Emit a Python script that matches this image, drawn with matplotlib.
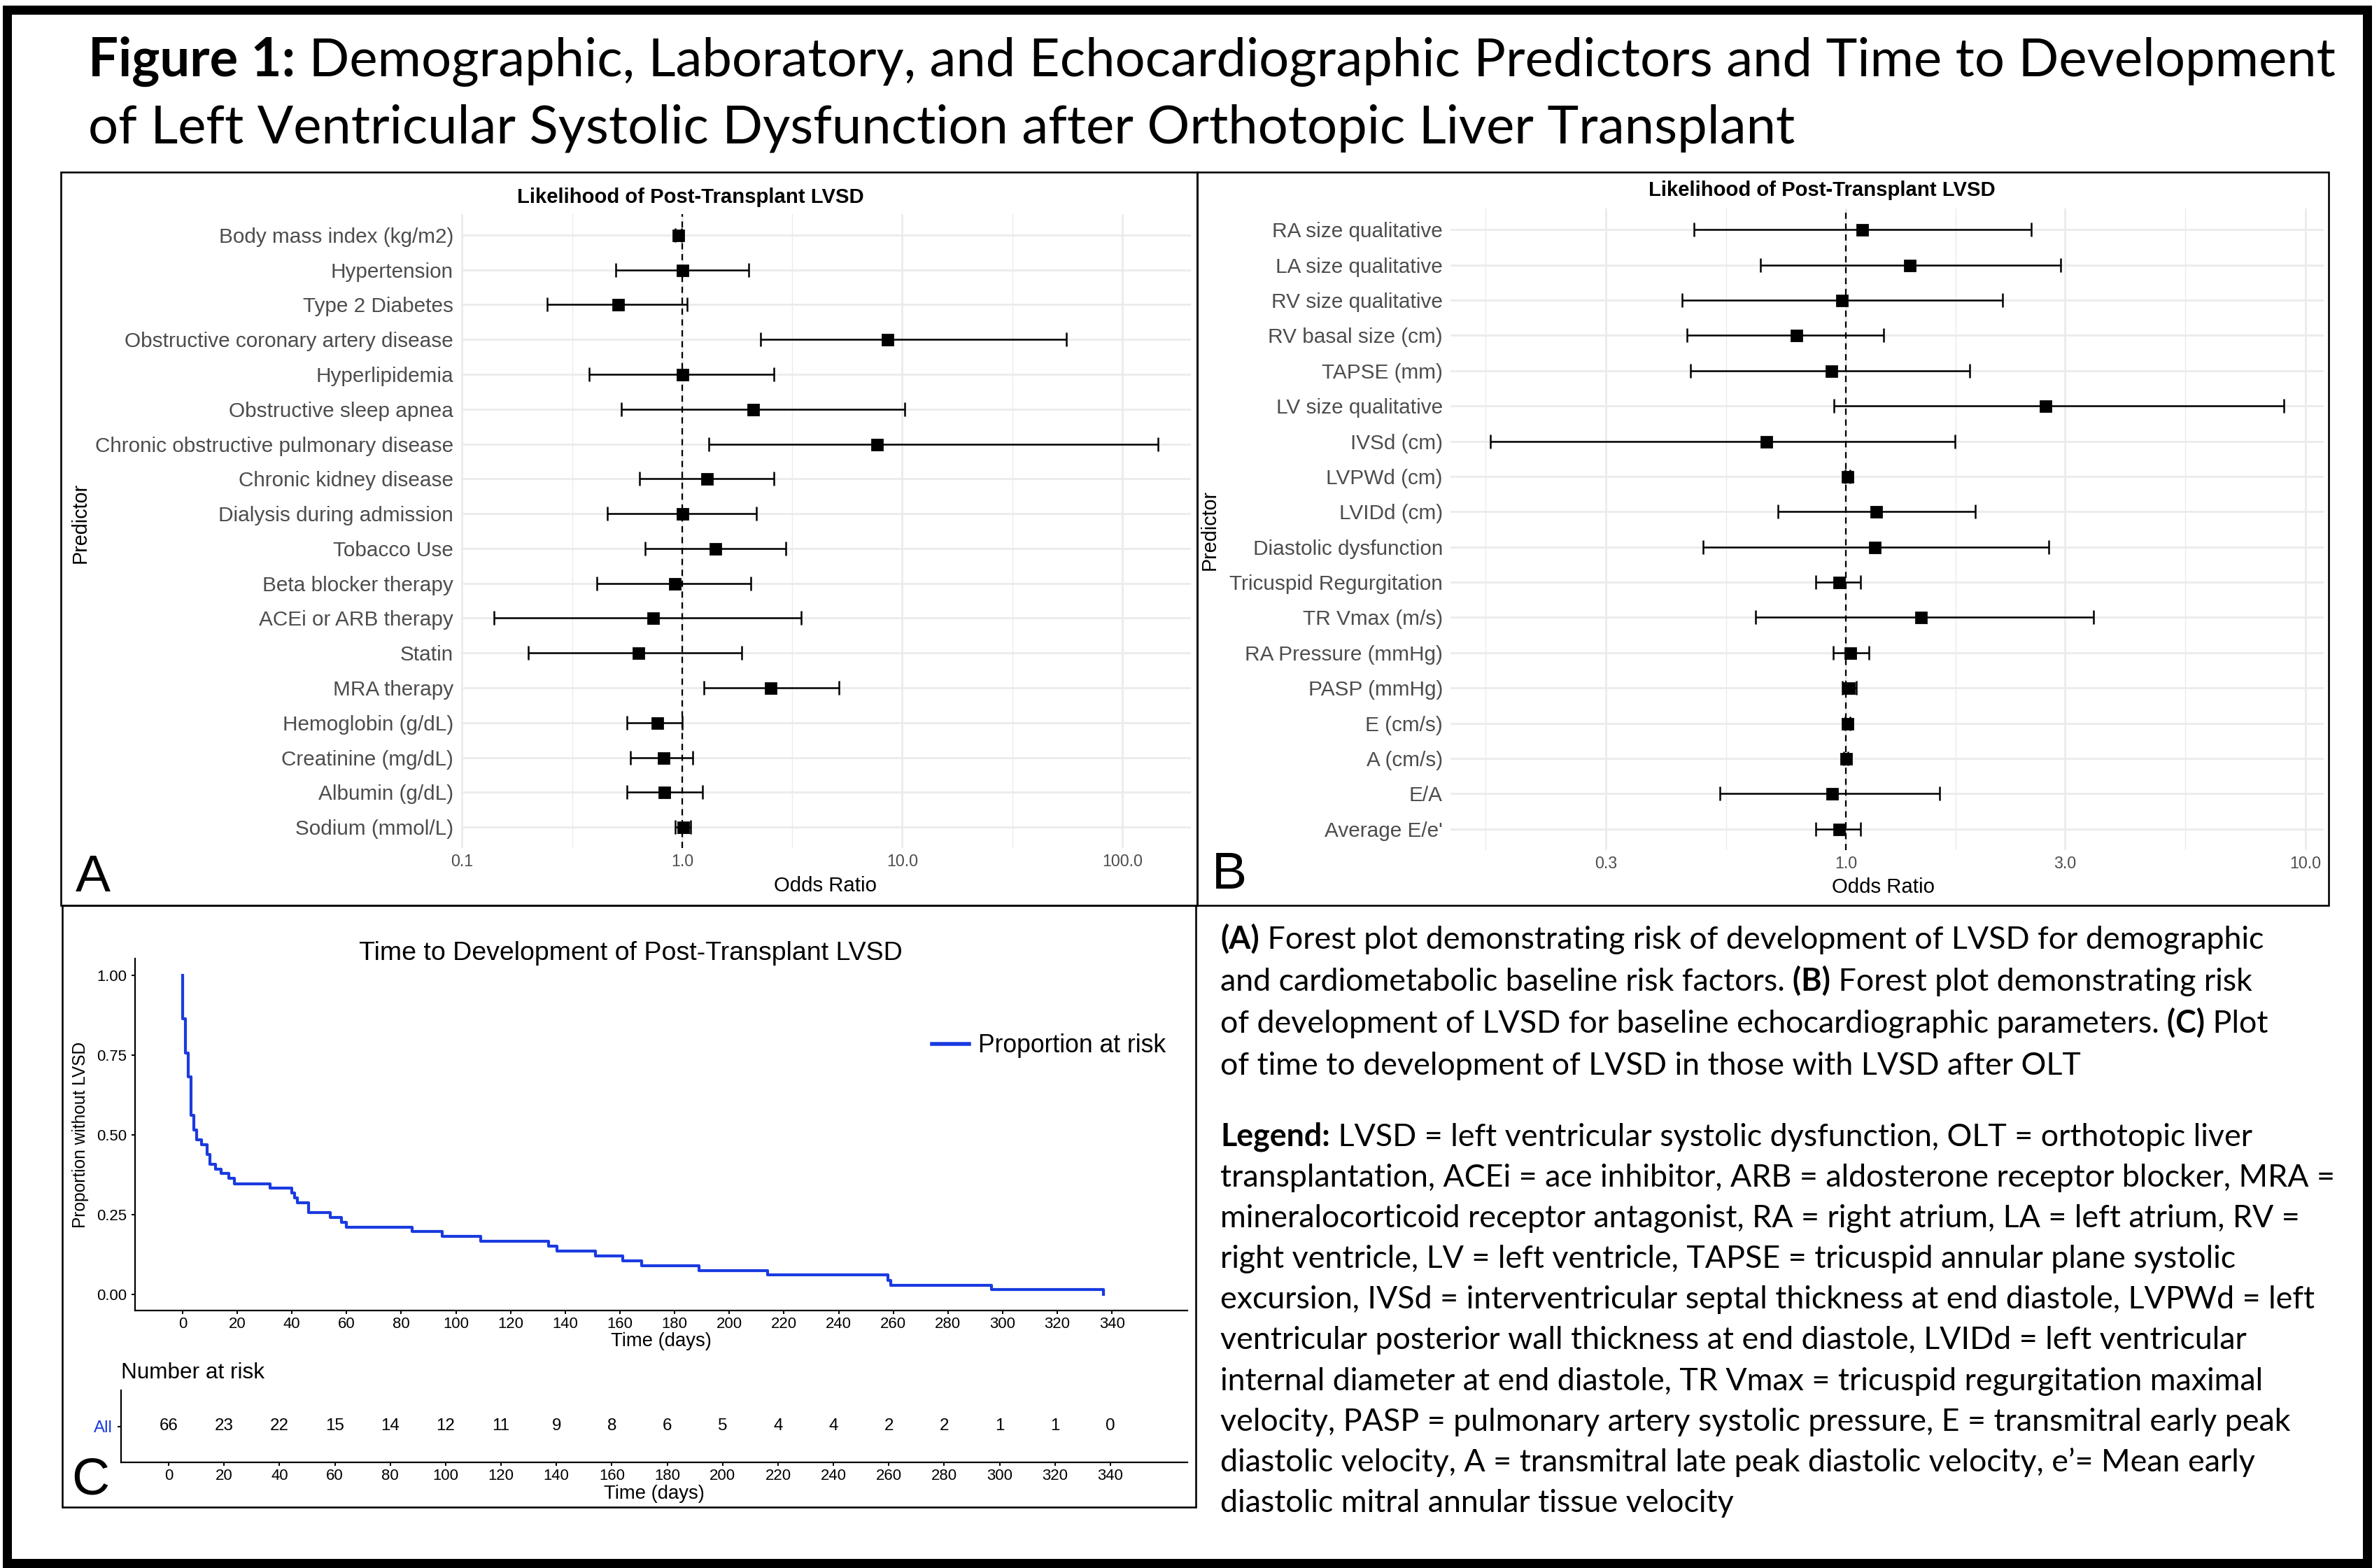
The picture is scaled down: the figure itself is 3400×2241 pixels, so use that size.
import numpy as np
import matplotlib
matplotlib.use("Agg")
import matplotlib.pyplot as plt
from matplotlib.patches import Rectangle
from matplotlib.lines import Line2D
from matplotlib.ticker import NullFormatter

# ---- panel A: demographic / laboratory predictors (odds ratio, 95% CI)
a_labels = ["Body mass index (kg/m2)", "Hypertension", "Type 2 Diabetes",
            "Obstructive coronary artery disease", "Hyperlipidemia",
            "Obstructive sleep apnea", "Chronic obstructive pulmonary disease",
            "Chronic kidney disease", "Dialysis during admission", "Tobacco Use",
            "Beta blocker therapy", "ACEi or ARB therapy", "Statin", "MRA therapy",
            "Hemoglobin (g/dL)", "Creatinine (mg/dL)", "Albumin (g/dL)",
            "Sodium (mmol/L)"]
a_or = [0.96, 1.00, 0.51, 8.55, 1.00, 2.09, 7.68, 1.29, 1.00, 1.41,
        0.92, 0.735, 0.63, 2.52, 0.77, 0.82, 0.83, 1.01]
a_lo = [0.93, 0.50, 0.243, 2.28, 0.379, 0.528, 1.32, 0.64, 0.456, 0.68,
        0.41, 0.140, 0.20, 1.26, 0.56, 0.58, 0.56, 0.93]
a_hi = [0.99, 2.01, 1.05, 55.9, 2.62, 10.3, 145.0, 2.62, 2.17, 2.96,
        2.05, 3.48, 1.86, 5.15, 1.00, 1.12, 1.24, 1.09]
a_breaks = [0.1, 1, 10, 100]
a_blabels = ["0.1", "1.0", "10.0", "100.0"]

# ---- panel B: echocardiographic predictors
b_labels = ["RA size qualitative", "LA size qualitative", "RV size qualitative",
            "RV basal size (cm)", "TAPSE (mm)", "LV size qualitative", "IVSd (cm)",
            "LVPWd (cm)", "LVIDd (cm)", "Diastolic dysfunction",
            "Tricuspid Regurgitation", "TR Vmax (m/s)", "RA Pressure (mmHg)",
            "PASP (mmHg)", "E (cm/s)", "A (cm/s)", "E/A", "Average E/e'"]
b_or = [1.085, 1.374, 0.98, 0.778, 0.929, 2.72, 0.669, 1.007, 1.163, 1.155,
        0.964, 1.452, 1.022, 1.015, 1.007, 1.00, 0.932, 0.964]
b_lo = [0.466, 0.652, 0.439, 0.451, 0.459, 0.942, 0.168, 0.995, 0.712, 0.489,
        0.86, 0.635, 0.939, 0.982, 0.995, 0.99, 0.532, 0.86]
b_hi = [2.53, 2.93, 2.19, 1.207, 1.86, 8.99, 1.73, 1.02, 1.915, 2.76,
        1.077, 3.46, 1.121, 1.053, 1.02, 1.01, 1.598, 1.077]
b_breaks = [0.3, 1, 3, 10]
b_blabels = ["0.3", "1.0", "3.0", "10.0"]

# ---- panel C: time to LVSD (Kaplan-Meier steps)
km_days = [0, 0, 1, 2, 3, 4, 5, 7, 9, 10, 12, 14, 17, 19, 32, 40, 41, 42, 46,
           54, 58, 60, 84, 95, 109, 134, 137, 151, 161, 168, 189, 214, 258,
           259, 296, 337]
km_surv = [1.000, 0.864, 0.758, 0.682, 0.561, 0.515, 0.485, 0.470, 0.439,
           0.409, 0.394, 0.379, 0.364, 0.348, 0.333, 0.318, 0.303, 0.288,
           0.258, 0.242, 0.227, 0.212, 0.197, 0.182, 0.167, 0.152, 0.136,
           0.121, 0.106, 0.091, 0.076, 0.061, 0.045, 0.030, 0.015, 0.000]
risk_days = list(range(0, 341, 20))
risk_counts = [66, 23, 22, 15, 14, 12, 11, 9, 8, 6, 5, 4, 4, 2, 2, 1, 1, 0]

# ---- text (** marks bold pieces)
title_lines = ["**Figure 1:** Demographic, Laboratory, and Echocardiographic Predictors and Time to Development",
               "of Left Ventricular Systolic Dysfunction after Orthotopic Liver Transplant"]
caption_lines = [
    "**(A)** Forest plot demonstrating risk of development of LVSD for demographic",
    "and cardiometabolic baseline risk factors. **(B)** Forest plot demonstrating risk",
    "of development of LVSD for baseline echocardiographic parameters. **(C)** Plot",
    "of time to development of LVSD in those with LVSD after OLT",
]
legend_lines = [
    "**Legend:** LVSD = left ventricular systolic dysfunction, OLT = orthotopic liver",
    "transplantation, ACEi = ace inhibitor, ARB = aldosterone receptor blocker, MRA =",
    "mineralocorticoid receptor antagonist, RA = right atrium, LA = left atrium, RV =",
    "right ventricle, LV = left ventricle, TAPSE = tricuspid annular plane systolic",
    "excursion, IVSd = interventricular septal thickness at end diastole, LVPWd = left",
    "ventricular posterior wall thickness at end diastole, LVIDd = left ventricular",
    "internal diameter at end diastole, TR Vmax = tricuspid regurgitation maximal",
    "velocity, PASP = pulmonary artery systolic pressure, E = transmitral early peak",
    "diastolic velocity, A = transmitral late peak diastolic velocity, e\u2019= Mean early",
    "diastolic mitral annular tissue velocity",
]
# right ends of the caption lines in the reference (px), used to size the font
caption_ends = [3295, 3293, 3306, 2993]
legend_ends = [3189, 3322, 3284, 3178, 3293, 3203, 3240, 3262, 3224, 2481]

SANS = "Liberation Sans"
BODY = "Lato"

W, H, DPI = 3400, 2241, 200
BLUE = "#1A3BE0"
GREY = "#4D4D4D"
GRID = "#EBEBEB"

fig = plt.figure(figsize=(W / DPI, H / DPI), dpi=DPI)
fig.patch.set_facecolor("white")
renderer = fig.canvas.get_renderer()


def fx(px):
    return px / W


def fy(py):
    return 1 - py / H


def rect(x0, y0, x1, y1):
    return [x0 / W, 1 - y1 / H, (x1 - x0) / W, (y1 - y0) / H]


def fit(text, width_px, **kw):
    t = fig.text(0, 0, text, fontsize=20, **kw)
    w = t.get_window_extent(renderer).width
    t.remove()
    return 20 * width_px / w


def put(x, y, s, **kw):
    return fig.text(fx(x), fy(y), s, **kw)


def segments(line):
    # split on ** and push trailing spaces onto the next piece
    out, carry = [], ""
    for i, p in enumerate(line.split("**")):
        p = carry + p
        core = p.rstrip(" ")
        carry = p[len(core):]
        if core:
            out.append((core, i % 2 == 1))
    return out


def rich(x, y, line, size, keep=True):
    x0 = x
    arts = []
    for s, bold in segments(line):
        t = put(x, y, s, fontsize=size, family=BODY,
                weight="bold" if bold else "normal", va="baseline")
        x += t.get_window_extent(renderer).width
        arts.append(t)
    if not keep:
        for t in arts:
            t.remove()
    return x - x0


# ---- frame and panel boxes
pt = 72 / DPI
fig.add_artist(Rectangle((fx(9.5), fy(2234)), (3383 - 9.5) / W, (2234 - 14) / H,
                         transform=fig.transFigure, fill=False, lw=13 * pt,
                         edgecolor="black"))
for x0, y0, x1, y1 in [(87, 246, 1711, 1294), (1711, 246, 3328, 1294),
                       (89, 1294, 1709, 2154)]:
    fig.add_artist(Rectangle((fx(x0), fy(y1)), (x1 - x0) / W, (y1 - y0) / H,
                             transform=fig.transFigure, fill=False,
                             lw=2.6 * pt, edgecolor="black"))

# ---- title
ts = 20 * (3337 - 126) / rich(0, 0, title_lines[0], 20, keep=False)
rich(126, 109, title_lines[0], ts)
rich(126, 204, title_lines[1], ts)


# ---- forest plots
def forest(box, labels, est, lo, hi, breaks, blabels, ysz, xsz):
    ax = fig.add_axes(rect(*box))
    est, lo, hi = np.array(est), np.array(lo), np.array(hi)
    y = np.arange(len(labels))[::-1]
    ax.set_xscale("log")
    ax.set_xticks(breaks)
    ax.set_xticklabels(blabels)
    mids = np.sqrt(np.array(breaks[:-1]) * np.array(breaks[1:]))
    minor = np.concatenate([[breaks[0] ** 2 / mids[0]], mids])
    ax.set_xticks(minor, minor=True)
    ax.xaxis.set_minor_formatter(NullFormatter())
    llo, lhi = np.log10(lo.min()), np.log10(hi.max())
    pad = 0.05 * (lhi - llo)
    ax.set_xlim(10 ** (llo - pad), 10 ** (lhi + pad))
    ax.set_yticks(y)
    ax.set_yticklabels(labels)
    ax.set_ylim(-0.6, len(labels) - 0.4)
    ax.grid(which="major", color=GRID, lw=1.0)
    ax.grid(which="minor", axis="x", color=GRID, lw=0.5)
    ax.set_axisbelow(True)
    for s in ax.spines.values():
        s.set_visible(False)
    ax.tick_params(which="both", length=0)
    ax.tick_params(axis="y", labelsize=ysz, labelcolor=GREY, pad=4)
    ax.tick_params(axis="x", labelsize=xsz, labelcolor=GREY, pad=3)
    for lab in ax.get_xticklabels() + ax.get_yticklabels():
        lab.set_family(SANS)
    ax.axvline(1, color="black", lw=0.8, ls=(0, (4, 3)), zorder=2)
    ax.errorbar(est, y, xerr=[est - lo, hi - est], fmt="s", color="black",
                ms=5.4, capsize=3.6, elinewidth=0.9, capthick=0.9, zorder=3)
    return ax


ylab_sz = fit("Chronic obstructive pulmonary disease", 512, family=SANS)
xlab_sz = fit("100.0", 58, family=SANS)
forest((659, 306, 1702, 1212), a_labels, a_or, a_lo, a_hi, a_breaks, a_blabels,
       ylab_sz, xlab_sz)
forest((2073, 298, 3321, 1215), b_labels, b_or, b_lo, b_hi, b_breaks, b_blabels,
       ylab_sz, xlab_sz)

fp_title = "Likelihood of Post-Transplant LVSD"
tt = fit(fp_title, 494, family=SANS, weight="bold")
put(987, 282, fp_title, fontsize=tt, family=SANS, weight="bold", ha="center", va="center")
put(2604, 272, fp_title, fontsize=tt, family=SANS, weight="bold", ha="center", va="center")
osz = fit("Odds Ratio", 147, family=SANS)
put(1180, 1266, "Odds Ratio", fontsize=osz, family=SANS, ha="center", va="center")
put(2691, 1268, "Odds Ratio", fontsize=osz, family=SANS, ha="center", va="center")
psz = fit("Predictor", 115, family=SANS)
put(115, 747, "Predictor", fontsize=psz, family=SANS, rotation=90,
    ha="center", va="center")
put(1729, 757, "Predictor", fontsize=psz, family=SANS, rotation=90,
    ha="center", va="center")

for letter, (x, y) in zip("ABC", [(133, 1254), (1757, 1250), (129, 2116)]):
    put(x, y, letter, fontsize=27, family=SANS, ha="center", va="center")

# ---- Kaplan-Meier curve
tick_sz = fit("20", 24.5, family=SANS)
axk = fig.add_axes(rect(193, 1370, 1697, 1873))
axk.step(km_days, km_surv, where="post", color=BLUE, lw=1.5)
axk.set_xticks(risk_days)
axk.set_yticks([0, 0.25, 0.5, 0.75, 1.0])
axk.set_yticklabels(["0.00", "0.25", "0.50", "0.75", "1.00"])
axk.set_xlim(-17.4, 367.6)
axk.set_ylim(-0.05, 1.053)
for s in ["top", "right"]:
    axk.spines[s].set_visible(False)
for s in ["left", "bottom"]:
    axk.spines[s].set_linewidth(0.8)
axk.tick_params(length=1.8, width=0.7, labelsize=tick_sz)
axk.tick_params(axis="x", pad=1.5)
axk.tick_params(axis="y", pad=2.5)
for lab in axk.get_xticklabels() + axk.get_yticklabels():
    lab.set_family(SANS)
leg_sz = fit("Proportion at risk", 269, family=SANS)
leg_px = leg_sz * DPI / 72
axk.legend(handles=[Line2D([], [], color=BLUE, lw=2.0)], labels=["Proportion at risk"],
           loc="center left", bbox_to_anchor=(fx(1332), fy(1495)),
           bbox_transform=fig.transFigure, frameon=False, borderpad=0,
           borderaxespad=0, handlelength=53 / leg_px, handletextpad=13 / leg_px,
           prop={"family": SANS, "size": leg_sz})

km_t = "Time to Development of Post-Transplant LVSD"
put(901, 1362, km_t, fontsize=fit(km_t, 775, family=SANS), family=SANS,
    ha="center", va="center")
tsz = fit("Time (days)", 144, family=SANS)
put(945, 1917, "Time (days)", fontsize=tsz, family=SANS, ha="center", va="center")
put(115, 1622, "Proportion without LVSD",
    fontsize=fit("Proportion without LVSD", 267, family=SANS), family=SANS,
    rotation=90, ha="center", va="center")

# ---- number at risk table
axr = fig.add_axes(rect(173, 1987, 1697, 2090))
num_sz = fit("66", 27, family=SANS)
for d, n in zip(risk_days, risk_counts):
    axr.text(d, 0.5, str(n), ha="center", va="center", fontsize=num_sz, family=SANS)
axr.set_xticks(risk_days)
axr.set_yticks([0.5])
axr.set_yticklabels(["All"])
axr.get_yticklabels()[0].set_color(BLUE)
axr.set_xlim(-17.2, 367.8)
axr.set_ylim(0, 1)
for s in ["top", "right"]:
    axr.spines[s].set_visible(False)
for s in ["left", "bottom"]:
    axr.spines[s].set_linewidth(0.8)
axr.tick_params(length=1.8, width=0.7, labelsize=tick_sz)
axr.tick_params(axis="x", pad=1.5)
axr.tick_params(axis="y", pad=2.5, labelsize=num_sz)
for lab in axr.get_xticklabels() + axr.get_yticklabels():
    lab.set_family(SANS)
put(173, 1962, "Number at risk", fontsize=fit("Number at risk", 205, family=SANS),
    family=SANS, va="center")
put(935, 2135, "Time (days)", fontsize=tsz, family=SANS, ha="center", va="center")

# ---- caption text on the right
ratios = [(end - 1744) / rich(0, 0, line, 20, keep=False)
          for line, end in zip(caption_lines + legend_lines, caption_ends + legend_ends)]
cs = 20 * float(np.median(ratios))
for i, line in enumerate(caption_lines):
    rich(1744, 1356 + i * 60, line, cs)
for i, line in enumerate(legend_lines):
    rich(1744, 1638 + i * 58.1, line, cs)

fig.savefig("out.png", dpi=DPI, facecolor="white")
